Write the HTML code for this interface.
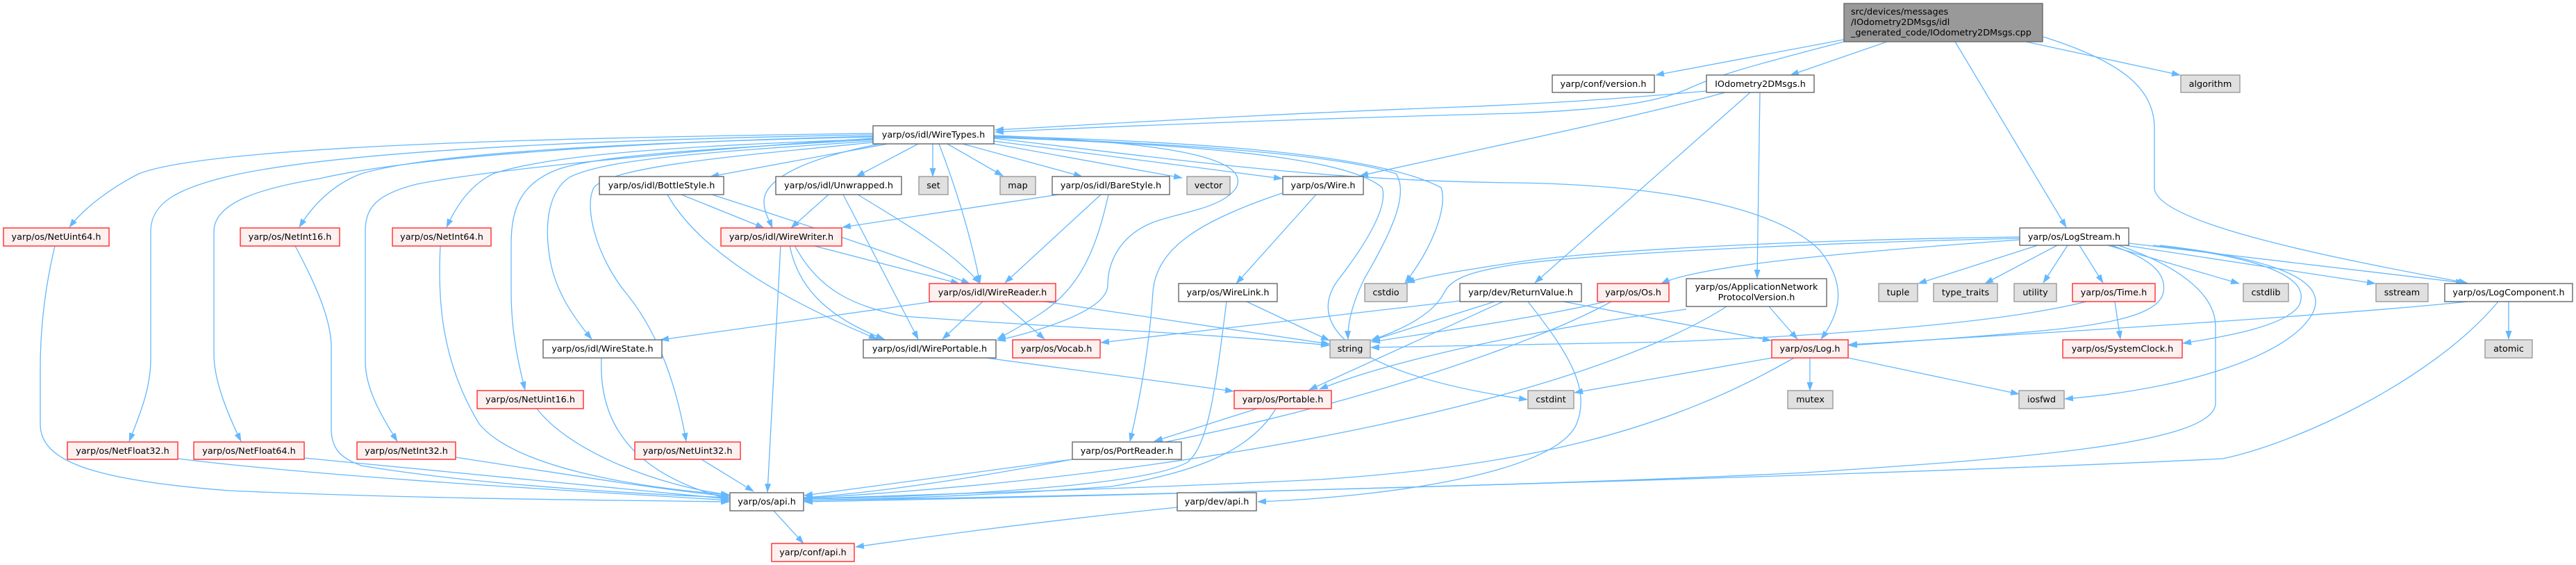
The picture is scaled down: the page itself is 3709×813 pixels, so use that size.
<!DOCTYPE html>
<html><head><meta charset="utf-8"><style>
html,body{margin:0;padding:0;background:#fff;}
svg{display:block;}
text{font-family:"DejaVu Sans","Liberation Sans",sans-serif;font-size:12.8px;fill:#000;}
.w{fill:#fff;stroke:#666;stroke-width:1.4}
.g{fill:#e0e0e0;stroke:#999;stroke-width:1.4}
.r{fill:#fff0f0;stroke:#ff2a2a;stroke-width:1.4}
.t{fill:#999;stroke:#666;stroke-width:1.4}
.e path{fill:none;stroke:#63b8ff;stroke-width:1.3;marker-end:url(#a)}
</style></head><body>
<svg width="3709" height="813" viewBox="0 0 3709 813" xmlns="http://www.w3.org/2000/svg">
<defs><marker id="a" markerWidth="13" markerHeight="9" refX="12" refY="4.5" orient="auto" markerUnits="userSpaceOnUse"><path d="M0,0 L13,4.5 L0,9 z" fill="#63b8ff"/></marker></defs>
<g class="e">
<path d="M2655,57 L2384,108"/>
<path d="M2655,60 C2500,100 2470,110 2430,128 C2380,150 2300,158 2185,163 C1900,170 1600,182 1433,190"/>
<path d="M2717,60 L2578,108"/>
<path d="M2815,60 L2975,327"/>
<path d="M2917,60 L3139,108"/>
<path d="M2942,53 C3060,90 3102,130 3102,185 L3102,270 C3102,320 3350,370 3552,407"/>
<path d="M2457,131 C2300,145 2200,150 2100,154 C1800,165 1600,178 1433,187"/>
<path d="M2484,133 C2350,170 2150,210 1958,253"/>
<path d="M2520,133 L2210,407"/>
<path d="M2534,133 L2530,400"/>
<path d="M1257,192 C800,198 300,210 200,250 C160,270 120,300 100,327"/>
<path d="M1257,194 C900,200 500,215 332,253 C260,270 217,290 217,333 L217,517 C217,560 200,600 186,635"/>
<path d="M1257,196 C900,205 600,225 460,257 C380,270 308,290 308,333 L308,510 C308,550 330,600 347,635"/>
<path d="M1257,197 C900,205 620,220 520,250 C480,265 450,295 431,327"/>
<path d="M1257,199 C1000,215 700,245 600,265 C540,280 526,300 526,333 L526,520 C526,560 550,600 572,635"/>
<path d="M1257,200 C1000,210 800,220 710,250 C680,265 660,290 643,327"/>
<path d="M1257,201 C1000,215 850,225 800,245 C750,265 736,300 736,350 L736,420 C736,480 748,530 756,561"/>
<path d="M1257,203 C1000,220 870,230 820,255 C790,275 785,320 790,360 C795,410 820,450 852,488"/>
<path d="M1257,205 C1050,225 880,240 855,270 C840,300 860,370 900,420 C950,480 975,560 988,635"/>
<path d="M1278,207 L1023,254"/>
<path d="M1267,207 C1150,230 1100,260 1100,290 C1100,305 1108,318 1112,328"/>
<path d="M1322,207 L1233,254"/>
<path d="M1343,207 L1343,254"/>
<path d="M1352,207 C1380,280 1400,350 1411,408"/>
<path d="M1364,207 L1444,253"/>
<path d="M1386,207 L1558,254"/>
<path d="M1420,205 L1702,256"/>
<path d="M1431,203 L1846,257"/>
<path d="M1431,195 C1700,205 1800,230 1780,270 C1760,300 1700,305 1660,320 C1610,340 1595,380 1595,410 C1595,450 1480,480 1436,490"/>
<path d="M1431,196 C1800,205 2000,230 2075,270 C2085,300 2060,360 2023,407"/>
<path d="M1431,197 C1800,210 1950,230 2010,250 C2030,280 2000,340 1965,400 C1945,440 1940,470 1941,488"/>
<path d="M1431,198 C1800,210 1950,235 1990,270 C2000,300 1960,360 1925,405 C1880,470 1950,540 2199,575"/>
<path d="M1431,199 C1700,230 1900,260 2180,263 C2400,266 2560,300 2620,360 C2660,410 2650,450 2622,488"/>
<path d="M1846,278 C1720,320 1665,360 1660,420 C1655,500 1640,580 1627,635"/>
<path d="M981,280 L1100,328"/>
<path d="M1025,280 C1150,320 1300,370 1396,408"/>
<path d="M961,280 C1000,350 1100,420 1263,488"/>
<path d="M1193,280 L1139,328"/>
<path d="M1235,280 C1300,320 1370,360 1411,408"/>
<path d="M1214,280 L1322,488"/>
<path d="M1524,280 L1213,327"/>
<path d="M1585,280 L1447,407"/>
<path d="M1596,280 C1580,350 1560,410 1500,450 C1470,470 1450,480 1436,488"/>
<path d="M1124,353 L1105,708"/>
<path d="M1137,353 C1150,420 1200,460 1273,488"/>
<path d="M1144,353 C1180,420 1230,440 1300,455 C1500,470 1750,480 1914,497"/>
<path d="M1169,353 L1381,408"/>
<path d="M1442,434 L1504,488"/>
<path d="M1504,434 L1914,495"/>
<path d="M1344,434 L951,489"/>
<path d="M1415,434 L1357,488"/>
<path d="M866,515 C862,600 900,680 1050,718"/>
<path d="M1420,515 L1776,563"/>
<path d="M1810,588 L1662,635"/>
<path d="M1837,588 C1800,650 1720,680 1600,700 C1400,715 1250,718 1158,720"/>
<path d="M1544,661 C1400,680 1250,700 1158,713"/>
<path d="M1795,434 L1914,490"/>
<path d="M1766,434 C1750,560 1740,640 1710,665 C1650,700 1350,715 1158,718"/>
<path d="M1895,280 L1780,408"/>
<path d="M1114,735 L1157,782"/>
<path d="M1695,730 C1500,750 1350,770 1232,787"/>
<path d="M79,354 C68,400 58,460 58,530 L58,610 C58,660 120,690 330,706 C600,718 900,720 1050,722"/>
<path d="M256,660 C500,690 900,710 1050,720"/>
<path d="M438,659 C700,685 950,710 1050,718"/>
<path d="M425,354 C455,410 477,460 477,500 L477,617 C477,650 495,660 520,670 C700,700 950,712 1050,716"/>
<path d="M656,658 C800,680 950,705 1050,714"/>
<path d="M634,354 C630,430 635,520 690,610 C740,670 900,700 1050,712"/>
<path d="M773,588 C820,650 950,700 1050,712"/>
<path d="M1010,661 L1085,707"/>
<path d="M2908,341 C2600,345 2300,360 2185,377 C2100,390 2050,398 2025,407"/>
<path d="M2908,343 C2600,350 2300,365 2185,380 C2120,390 2090,400 2080,420 C2060,460 2000,480 1974,490"/>
<path d="M2908,345 C2700,360 2450,380 2392,408"/>
<path d="M2934,353 L2762,408"/>
<path d="M2962,353 L2858,408"/>
<path d="M2977,353 L2942,407"/>
<path d="M2994,353 L3028,407"/>
<path d="M3035,353 L3224,408"/>
<path d="M3060,353 L3420,408"/>
<path d="M3065,350 L3548,407"/>
<path d="M3040,353 C3090,370 3120,390 3115,420 C3110,450 3050,465 2950,475 C2850,485 2720,493 2662,497"/>
<path d="M3050,353 C3130,380 3190,420 3190,470 L3190,580 C3190,640 2900,660 2600,680 C2200,700 1500,715 1158,720"/>
<path d="M3100,353 C3260,370 3330,400 3310,440 C3290,470 3200,485 3143,494"/>
<path d="M3110,353 C3300,375 3350,410 3330,450 C3300,510 3150,560 2973,574"/>
<path d="M3553,434 C3400,450 3100,470 2662,496"/>
<path d="M3597,434 C3500,550 3300,640 3200,660 C2800,680 1800,710 1158,722"/>
<path d="M3612,434 L3612,488"/>
<path d="M3045,434 L3053,488"/>
<path d="M3004,434 C2900,460 2700,480 2400,492 C2200,497 2050,499 1974,500"/>
<path d="M2102,433 L1585,493"/>
<path d="M2152,434 L1975,490"/>
<path d="M2164,434 L1885,561"/>
<path d="M2200,434 C2260,510 2290,560 2270,610 C2240,680 2000,715 1811,722"/>
<path d="M2251,434 L2550,490"/>
<path d="M2312,434 C2200,460 2050,480 1975,492"/>
<path d="M2320,434 C2200,500 1900,600 1600,650 C1400,690 1250,710 1158,716"/>
<path d="M2428,445 C2200,475 2000,520 1900,560"/>
<path d="M2486,441 C2300,560 1800,680 1158,717"/>
<path d="M2547,441 L2588,488"/>
<path d="M2551,515 L2267,565"/>
<path d="M2606,515 L2606,562"/>
<path d="M2661,515 L2907,567"/>
<path d="M2583,515 C2400,620 2200,670 1900,690 C1600,705 1300,712 1158,718"/>
</g>

<rect class="t" x="2655" y="5" width="286" height="55"/>
<text x="2665" y="21">src/devices/messages</text>
<text x="2665" y="36">/IOdometry2DMsgs/idl</text>
<text x="2665" y="51">_generated_code/IOdometry2DMsgs.cpp</text>

<g>
<rect class="w" x="2235" y="108" width="147" height="25"/><text x="2308.5" y="125" text-anchor="middle">yarp/conf/version.h</text>
<rect class="w" x="2457" y="108" width="155" height="25"/><text x="2534.5" y="125" text-anchor="middle">IOdometry2DMsgs.h</text>
<rect class="w" x="1257" y="181" width="174" height="26"/><text x="1344" y="198" text-anchor="middle">yarp/os/idl/WireTypes.h</text>
<rect class="w" x="863" y="254" width="179" height="26"/><text x="952.5" y="271" text-anchor="middle">yarp/os/idl/BottleStyle.h</text>
<rect class="w" x="1117" y="254" width="181" height="26"/><text x="1207.5" y="271" text-anchor="middle">yarp/os/idl/Unwrapped.h</text>
<rect class="w" x="1515" y="254" width="169" height="26"/><text x="1599.5" y="271" text-anchor="middle">yarp/os/idl/BareStyle.h</text>
<rect class="w" x="1847" y="254" width="116" height="26"/><text x="1905" y="271" text-anchor="middle">yarp/os/Wire.h</text>
<rect class="w" x="2908" y="328" width="157" height="25"/><text x="2986.5" y="345" text-anchor="middle">yarp/os/LogStream.h</text>
<rect class="w" x="1697" y="408" width="142" height="26"/><text x="1768" y="425" text-anchor="middle">yarp/os/WireLink.h</text>
<rect class="w" x="2102" y="408" width="175" height="26"/><text x="2189.5" y="425" text-anchor="middle">yarp/dev/ReturnValue.h</text>
<rect class="w" x="2428" y="401" width="202" height="40"/><text x="2529" y="417" text-anchor="middle">yarp/os/ApplicationNetwork</text><text x="2529" y="432" text-anchor="middle">ProtocolVersion.h</text>
<rect class="w" x="3520" y="408" width="184" height="26"/><text x="3612" y="425" text-anchor="middle">yarp/os/LogComponent.h</text>
<rect class="w" x="782" y="489" width="171" height="26"/><text x="867.5" y="506" text-anchor="middle">yarp/os/idl/WireState.h</text>
<rect class="w" x="1243" y="489" width="191" height="26"/><text x="1338.5" y="506" text-anchor="middle">yarp/os/idl/WirePortable.h</text>
<rect class="w" x="1544" y="636" width="157" height="25"/><text x="1622.5" y="653" text-anchor="middle">yarp/os/PortReader.h</text>
<rect class="w" x="1051" y="709" width="106" height="26"/><text x="1104" y="726" text-anchor="middle">yarp/os/api.h</text>
<rect class="w" x="1695" y="709" width="114" height="26"/><text x="1752" y="726" text-anchor="middle">yarp/dev/api.h</text>

<rect class="g" x="3140" y="108" width="85" height="25"/><text x="3182.5" y="125" text-anchor="middle">algorithm</text>
<rect class="g" x="1323" y="254" width="42" height="26"/><text x="1344" y="271" text-anchor="middle">set</text>
<rect class="g" x="1440" y="254" width="51" height="26"/><text x="1465.5" y="271" text-anchor="middle">map</text>
<rect class="g" x="1709" y="254" width="62" height="26"/><text x="1740" y="271" text-anchor="middle">vector</text>
<rect class="g" x="1965" y="408" width="61" height="26"/><text x="1995.5" y="425" text-anchor="middle">cstdio</text>
<rect class="g" x="2705" y="408" width="56" height="26"/><text x="2733" y="425" text-anchor="middle">tuple</text>
<rect class="g" x="2784" y="408" width="92" height="26"/><text x="2830" y="425" text-anchor="middle">type_traits</text>
<rect class="g" x="2900" y="408" width="61" height="26"/><text x="2930.5" y="425" text-anchor="middle">utility</text>
<rect class="g" x="3230" y="408" width="65" height="26"/><text x="3262.5" y="425" text-anchor="middle">cstdlib</text>
<rect class="g" x="3421" y="408" width="75" height="26"/><text x="3458.5" y="425" text-anchor="middle">sstream</text>
<rect class="g" x="1915" y="489" width="58" height="26"/><text x="1944" y="506" text-anchor="middle">string</text>
<rect class="g" x="3578" y="489" width="68" height="26"/><text x="3612" y="506" text-anchor="middle">atomic</text>
<rect class="g" x="2200" y="562" width="66" height="26"/><text x="2233" y="579" text-anchor="middle">cstdint</text>
<rect class="g" x="2574" y="562" width="65" height="26"/><text x="2606.5" y="579" text-anchor="middle">mutex</text>
<rect class="g" x="2907" y="562" width="65" height="26"/><text x="2939.5" y="579" text-anchor="middle">iosfwd</text>

<rect class="r" x="5" y="328" width="152" height="26"/><text x="81" y="345" text-anchor="middle">yarp/os/NetUint64.h</text>
<rect class="r" x="346" y="328" width="143" height="26"/><text x="417.5" y="345" text-anchor="middle">yarp/os/NetInt16.h</text>
<rect class="r" x="565" y="328" width="142" height="26"/><text x="636" y="345" text-anchor="middle">yarp/os/NetInt64.h</text>
<rect class="r" x="1038" y="328" width="174" height="26"/><text x="1125" y="345" text-anchor="middle">yarp/os/idl/WireWriter.h</text>
<rect class="r" x="1338" y="408" width="182" height="26"/><text x="1429" y="425" text-anchor="middle">yarp/os/idl/WireReader.h</text>
<rect class="r" x="2300" y="408" width="103" height="26"/><text x="2351.5" y="425" text-anchor="middle">yarp/os/Os.h</text>
<rect class="r" x="2984" y="408" width="119" height="26"/><text x="3043.5" y="425" text-anchor="middle">yarp/os/Time.h</text>
<rect class="r" x="1458" y="489" width="126" height="26"/><text x="1521" y="506" text-anchor="middle">yarp/os/Vocab.h</text>
<rect class="r" x="2551" y="489" width="110" height="26"/><text x="2606" y="506" text-anchor="middle">yarp/os/Log.h</text>
<rect class="r" x="2970" y="489" width="172" height="26"/><text x="3056" y="506" text-anchor="middle">yarp/os/SystemClock.h</text>
<rect class="r" x="687" y="562" width="153" height="26"/><text x="763.5" y="579" text-anchor="middle">yarp/os/NetUint16.h</text>
<rect class="r" x="1777" y="562" width="140" height="26"/><text x="1847" y="579" text-anchor="middle">yarp/os/Portable.h</text>
<rect class="r" x="97" y="636" width="159" height="25"/><text x="176.5" y="653" text-anchor="middle">yarp/os/NetFloat32.h</text>
<rect class="r" x="279" y="636" width="159" height="25"/><text x="358.5" y="653" text-anchor="middle">yarp/os/NetFloat64.h</text>
<rect class="r" x="514" y="636" width="142" height="25"/><text x="585" y="653" text-anchor="middle">yarp/os/NetInt32.h</text>
<rect class="r" x="914" y="636" width="152" height="25"/><text x="990" y="653" text-anchor="middle">yarp/os/NetUint32.h</text>
<rect class="r" x="1111" y="782" width="119" height="26"/><text x="1170.5" y="799" text-anchor="middle">yarp/conf/api.h</text>
</g>
</svg>
</body></html>
